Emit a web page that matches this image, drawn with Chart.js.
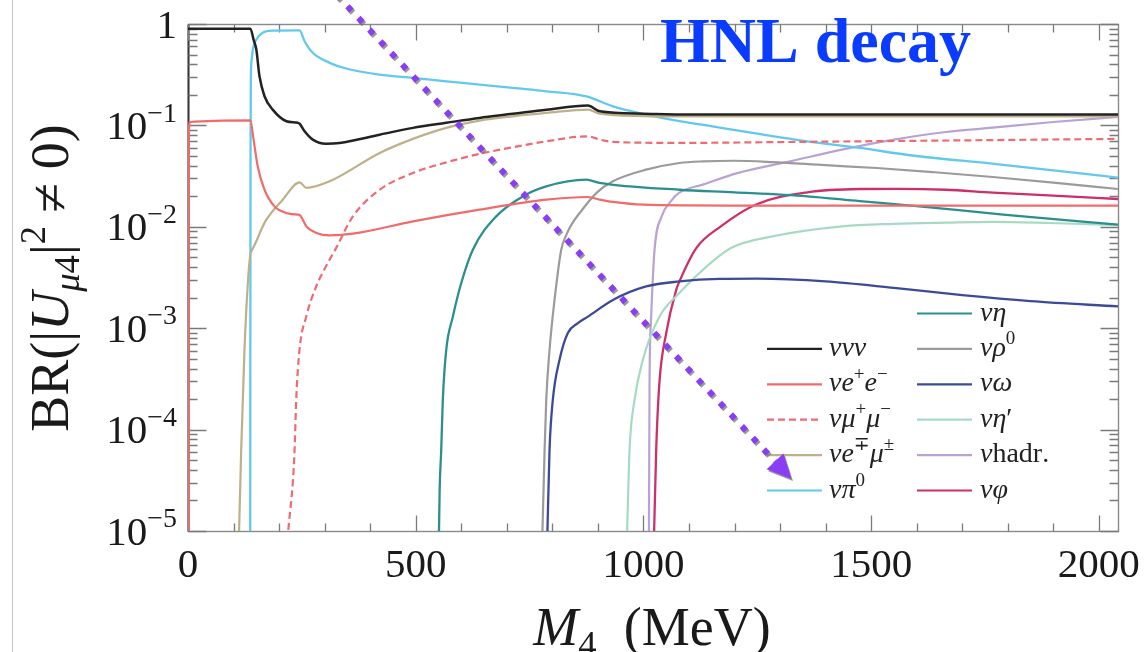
<!DOCTYPE html>
<html>
<head>
<meta charset="utf-8">
<title>HNL decay branching ratios</title>
<script src="https://cdn.jsdelivr.net/npm/chart.js@4.4.1/dist/chart.umd.min.js"></script>
<style>
  html, body { margin: 0; padding: 0; background: #ffffff; }
  #wrap { position: relative; width: 1144px; height: 652px; }
  canvas { display: block; }
</style>
</head>
<body>
<div id="wrap"><canvas id="chart" width="1144" height="652"></canvas></div>
<script>
// ---- axes ----
const massRange = [0, 2042];                 // M4 in MeV
const brRange = [1e-5, 1];                   // branching ratio
const xTicks = [0, 500, 1000, 1500, 2000];
const yTickLabels = ['10⁻⁵', '10⁻⁴', '10⁻³', '10⁻²', '10⁻¹', '1'];

// ---- decay channels: [M4 (MeV), BR] ----
const nuNuNu = [[0,0.90],[137,0.90],[144,0.70],[150,0.56],[157,0.305],[168,0.194],[186,0.143],[216,0.110],[241,0.106],[245,0.104],[256,0.0875],[274,0.0724],[303,0.066],[333,0.0672],[421,0.081],[494,0.0945],[567,0.106],[640,0.1186],[713,0.130],[787,0.143],[878,0.157],[904,0.138],[1000,0.1306],[1100,0.128],[2042,0.128]];
const nuEE = [[1.03,8e-6],[1.3,0.01],[2,0.08],[4,0.108],[137,0.112],[144,0.0724],[153,0.0395],[168,0.0232],[190,0.0159],[216,0.01368],[241,0.0132],[245,0.0131],[260,0.0101],[282,0.00869],[311,0.00822],[362,0.00855],[494,0.0113],[640,0.01475],[787,0.01853],[878,0.01968],[904,0.01853],[933,0.01758],[1000,0.01652],[1200,0.0162],[2042,0.0162]];
const nuMuMu = [[218,8e-6],[223,1.38e-5],[230,2.96e-5],[234,6.3e-5],[237.6,1.96e-4],[244.8,6.1e-4],[259.5,1.3e-3],[281.5,2.58e-3],[307,4.4e-3],[325.4,6.2e-3],[362,0.01267],[421,0.0232],[494,0.034],[567,0.0432],[640,0.0524],[713,0.0608],[787,0.0697],[878,0.078],[904,0.0724],[933,0.0687],[1079,0.0672],[1300,0.0685],[1600,0.0705],[2042,0.0736]];
const nuEMu = [[111.6,8e-6],[116.8,6.3e-5],[124,6.1e-4],[131.4,2.79e-3],[137,5.4e-3],[139,5.7e-3],[150,7.2e-3],[160,9.2e-3],[172,0.01175],[208,0.0185],[245,0.0274],[260,0.0242],[311,0.0281],[421,0.0535],[494,0.0736],[567,0.0945],[640,0.1115],[713,0.123],[787,0.1328],[878,0.1432],[904,0.1307],[1000,0.1236],[1100,0.1225],[2042,0.1225]];
const nuPi0 = [[136.6,8e-6],[136.9,1e-3],[137.3,0.05],[138,0.3],[140,0.45],[142.3,0.56],[150,0.70],[164,0.82],[186,0.86],[245,0.865],[256,0.676],[274,0.52],[311,0.414],[347,0.364],[421,0.317],[494,0.294],[567,0.272],[640,0.253],[713,0.234],[787,0.217],[875,0.193],[933,0.154],[1006,0.128],[1079,0.11],[1132,0.101],[1250,0.083],[1360,0.0697],[1475,0.060],[1590,0.0505],[1770,0.0418],[1900,0.036],[2042,0.0306]];
const nuEta = [[550.8,8e-6],[552.5,2.5e-5],[556,6.3e-5],[559.5,1.96e-4],[567,6.1e-4],[581.5,1.3e-3],[600,2.79e-3],[625.4,5.94e-3],[676.8,0.01267],[735,0.01995],[786.6,0.02506],[874.4,0.0292],[903.6,0.0271],[1079,0.0232],[1200,0.0219],[1360,0.0200],[1475,0.0179],[1588,0.0162],[1790,0.0132],[2042,0.0105]];
const nuRho0 = [[777.7,8e-6],[783,6.3e-5],[786.6,1.96e-4],[793.8,6.1e-4],[804.8,1.9e-3],[819.5,5.94e-3],[830,8.2e-3],[843,0.0107],[860,0.01368],[897,0.0216],[933,0.0281],[1006,0.0366],[1079,0.0426],[1132,0.0442],[1200,0.0448],[1283,0.0435],[1400,0.0405],[1512,0.038],[1640,0.0345],[1767,0.031],[1900,0.0273],[2042,0.0236]];
const nuOmega = [[788.7,8e-6],[793.8,6.3e-5],[801,1.96e-4],[815.8,4.88e-4],[834,8.95e-4],[856,1.12e-3],[878,1.3e-3],[933,1.9e-3],[1006,2.58e-3],[1079,2.89e-3],[1167,3.06e-3],[1250,3.08e-3],[1400,2.9e-3],[1550,2.5e-3],[1700,2.12e-3],[1850,1.85e-3],[2042,1.64e-3]];
const nuEtaPrime = [[963.6,8e-6],[969.5,6.3e-5],[980.5,1.96e-4],[998.7,4.88e-4],[1035,1.3e-3],[1079,2.22e-3],[1123,3.5e-3],[1192,6.17e-3],[1283,8.04e-3],[1436,0.0101],[1550,0.0107],[1664,0.011],[1767,0.0112],[1892,0.0109],[2042,0.0104]];
const nuHadr = [[1012,8e-6],[1012.7,5e-5],[1013.4,2.87e-4],[1017,1.3e-3],[1024.4,5.94e-3],[1040,0.01267],[1060,0.0178],[1078,0.0216],[1132,0.0262],[1208,0.034],[1322,0.0442],[1436,0.0577],[1550,0.0724],[1664,0.0861],[1767,0.095],[1900,0.108],[2042,0.121]];
const nuPhi = [[1023,8e-6],[1028,6.3e-5],[1035,2.87e-4],[1050,8.95e-4],[1072,2.39e-3],[1079,2.89e-3],[1116,6.17e-3],[1170,0.0101],[1246,0.0165],[1360,0.0219],[1475,0.0236],[1560,0.0237],[1664,0.0232],[1767,0.0217],[1900,0.0203],[2042,0.0188]];

const channelLabels = ['ννν', 'νe⁺e⁻', 'νμ⁺μ⁻', 'νe∓μ±', 'νπ⁰', 'νη', 'νρ⁰', 'νω', 'νη′', 'νhadr.', 'νφ'];
const channelData = [nuNuNu, nuEE, nuMuMu, nuEMu, nuPi0, nuEta, nuRho0, nuOmega, nuEtaPrime, nuHadr, nuPhi];

// guide arrow across the plot, in (M4, BR) units
const guideArrow = { from: [326, 1.95], to: [1325, 3.26e-5] };
const headline = 'HNL decay';

// ---- styles ----
const channelStyles = [
  { color: '#222222', width: 2.5 },
  { color: '#f26b6b', width: 2.2 },
  { color: '#ee6b73', width: 2.2, dash: [7, 4] },
  { color: '#bdb08a', width: 2.2 },
  { color: '#62c9ec', width: 2.3 },
  { color: '#2b8f8f', width: 2.3 },
  { color: '#9b9b9b', width: 2.2 },
  { color: '#3c4b98', width: 2.3 },
  { color: '#a8dac3', width: 2.2 },
  { color: '#b9a2d4', width: 2.2 },
  { color: '#cc2f69', width: 2.3 }
];

const SERIF = '"Liberation Serif", "DejaVu Serif", serif';
const SUP_MAP = { '⁺': '+', '⁻': '−', '⁰': '0', '¹': '1', '²': '2', '³': '3', '⁴': '4', '⁵': '5', '∓': '∓', '±': '±' };
const SUB_MAP = { '₀': '0', '₁': '1', '₂': '2', '₃': '3', '₄': '4' };

// split a label into math-style runs: single letters / greek italic, words upright
function toSegments(text) {
  const chars = Array.from(text);
  const segs = [];
  let i = 0;
  while (i < chars.length) {
    const c = chars[i];
    if (SUP_MAP[c]) { segs.push({ t: SUP_MAP[c], sup: true }); i++; continue; }
    if (SUB_MAP[c]) { segs.push({ t: SUB_MAP[c], sub: true }); i++; continue; }
    if (/[A-Za-z]/.test(c)) {
      let j = i;
      while (j < chars.length && /[A-Za-z]/.test(chars[j])) j++;
      const word = chars.slice(i, j).join('');
      segs.push({ t: word, it: word.length === 1 });
      i = j; continue;
    }
    if (/[\u0370-\u03FF]/.test(c)) { segs.push({ t: c, it: true }); i++; continue; }
    segs.push({ t: c }); i++;
  }
  return segs;
}

function segFont(seg, size) {
  const s = (seg.sup || seg.sub) ? size * 0.68 : size;
  return (seg.it ? 'italic ' : '') + s.toFixed(1) + 'px ' + SERIF;
}

function drawSegments(ctx, segs, x, y, size, align, color) {
  ctx.save();
  ctx.fillStyle = color;
  ctx.textBaseline = 'alphabetic';
  ctx.textAlign = 'left';
  const widths = segs.map(s => { ctx.font = segFont(s, size); return ctx.measureText(s.t).width; });
  const total = widths.reduce((a, b) => a + b, 0);
  let cx = align === 'right' ? x - total : align === 'center' ? x - total / 2 : x;
  segs.forEach((s, i) => {
    ctx.font = segFont(s, size);
    const dy = s.sup ? -0.42 * size : s.sub ? 0.2 * size : 0;
    ctx.fillText(s.t, cx, y + dy);
    cx += widths[i];
  });
  ctx.restore();
}

const yTitleSegs = [
  { t: 'BR(|' }, { t: 'U', it: true }, { t: 'μ', it: true, sub: true }, { t: '4', sub: true },
  { t: '|' }, { t: '2', sup: true }, { t: ' ≠ 0)' }
];
const xTitleSegs = [{ t: 'M', it: true }, { t: '4', sub: true }, { t: '  (MeV)' }];

// frame with inward ticks, decade labels and axis titles
const framePlugin = {
  id: 'framePlugin',
  beforeDatasetsDraw(chart) {
    const { ctx, chartArea: a, scales: { x, y } } = chart;
    const L = a.left + 0.5, R = a.right + 0.5, T = a.top + 0.5, B = a.bottom + 0.5;
    ctx.save();
    ctx.strokeStyle = '#8a8a8a';
    ctx.lineWidth = 1.4;
    ctx.strokeRect(L, T, R - L, B - T);
    ctx.strokeStyle = '#3a3a3a';
    ctx.lineWidth = 2;
    ctx.beginPath(); ctx.moveTo(L, T); ctx.lineTo(L, B); ctx.stroke();

    ctx.strokeStyle = '#7a7a7a';
    ctx.lineWidth = 1.3;
    ctx.beginPath();
    for (let m = 0; m <= x.max; m += 100) {
      const px = Math.round(x.getPixelForValue(m)) + 0.5;
      const len = m % 500 === 0 ? 16 : 8;
      ctx.moveTo(px, B); ctx.lineTo(px, B - len);
      ctx.moveTo(px, T); ctx.lineTo(px, T + len);
    }
    const e0 = Math.round(Math.log10(y.min)), e1 = Math.round(Math.log10(y.max));
    for (let e = e0; e <= e1; e++) {
      for (let k = 1; k <= 9; k++) {
        const v = k * Math.pow(10, e);
        if (v > y.max * 1.0001) break;
        const py = Math.round(y.getPixelForValue(v)) + 0.5;
        const len = k === 1 ? 18 : 9;
        ctx.moveTo(L, py); ctx.lineTo(L + len, py);
        ctx.moveTo(R, py); ctx.lineTo(R - len, py);
      }
    }
    ctx.stroke();
    ctx.restore();
  },
  afterDraw(chart) {
    const { ctx, chartArea: a, scales: { y } } = chart;
    // decade labels
    const e0 = Math.round(Math.log10(y.min));
    yTickLabels.forEach((lab, i) => {
      const py = y.getPixelForValue(Math.pow(10, e0 + i));
      drawSegments(ctx, toSegments(lab), a.left - 11, py + 13.5, 41, 'right', '#1a1a1a');
    });
    // axis titles
    ctx.save();
    ctx.translate(68, 278);
    ctx.rotate(-Math.PI / 2);
    drawSegments(ctx, yTitleSegs, 0, 0, 54, 'center', '#1a1a1a');
    ctx.restore();
    drawSegments(ctx, xTitleSegs, 652, 645, 54, 'center', '#1a1a1a');
    // page edge
    ctx.save();
    ctx.strokeStyle = '#c4c4c4';
    ctx.lineWidth = 1;
    ctx.beginPath(); ctx.moveTo(12.5, 0); ctx.lineTo(12.5, chart.height); ctx.stroke();
    ctx.restore();
  }
};

// two-column legend inside the plot
const legendPlugin = {
  id: 'legendPlugin',
  afterDatasetsDraw(chart, args, opts) {
    const { ctx } = chart;
    const place = (idx, col, row) => {
      const ds = chart.data.datasets[idx];
      const c = opts.columns[col];
      const yy = opts.rowY0 + row * opts.rowStep;
      ctx.save();
      ctx.strokeStyle = ds.borderColor;
      ctx.lineWidth = 2.2;
      ctx.setLineDash(ds.borderDash || []);
      ctx.beginPath(); ctx.moveTo(c.lineX, yy); ctx.lineTo(c.lineX + opts.lineLen, yy); ctx.stroke();
      ctx.restore();
      drawSegments(ctx, toSegments(ds.label), c.textX, yy + 7, opts.fontSize, 'left', '#222222');
    };
    opts.left.forEach((idx, r) => place(idx, 0, r + 1));
    opts.right.forEach((idx, r) => place(idx, 1, r));
  }
};

// dotted arrow and headline
const overlayPlugin = {
  id: 'overlayPlugin',
  afterDraw(chart) {
    const { ctx, scales: { x, y } } = chart;
    const p0 = { x: x.getPixelForValue(guideArrow.from[0]), y: y.getPixelForValue(guideArrow.from[1]) };
    const p1 = { x: x.getPixelForValue(guideArrow.to[0]), y: y.getPixelForValue(guideArrow.to[1]) };
    const dx = p1.x - p0.x, dy = p1.y - p0.y, len = Math.hypot(dx, dy);
    const ux = dx / len, uy = dy / len;
    const headLen = 24, headHalf = 11.5;
    const bx = p1.x - ux * headLen, by = p1.y - uy * headLen;
    const drawArrow = (ox, oy, color) => {
      ctx.save();
      ctx.strokeStyle = color;
      ctx.fillStyle = color;
      ctx.lineWidth = 6;
      ctx.lineCap = 'butt';
      ctx.setLineDash([6, 10]);
      ctx.beginPath(); ctx.moveTo(p0.x + ox, p0.y + oy); ctx.lineTo(bx + ox, by + oy); ctx.stroke();
      ctx.setLineDash([]);
      ctx.beginPath();
      ctx.moveTo(p1.x + ox, p1.y + oy);
      ctx.lineTo(bx - uy * headHalf + ox, by + ux * headHalf + oy);
      ctx.lineTo(bx + uy * headHalf + ox, by - ux * headHalf + oy);
      ctx.closePath(); ctx.fill();
      ctx.restore();
    };
    drawArrow(1.5, 2, 'rgba(110,110,110,0.7)');
    drawArrow(0, 0, '#8b3cf7');

    ctx.save();
    ctx.font = 'bold 64px ' + SERIF;
    ctx.fillStyle = '#0a3cff';
    ctx.textBaseline = 'alphabetic';
    ctx.textAlign = 'left';
    ctx.fillText(headline, 660, 62);
    ctx.restore();
  }
};

const datasets = channelData.map((arr, i) => ({
  label: channelLabels[i],
  data: arr.map(([m, br]) => ({ x: m, y: br })),
  borderColor: channelStyles[i].color,
  borderWidth: channelStyles[i].width,
  borderDash: channelStyles[i].dash || [],
  pointRadius: 0,
  fill: false,
  cubicInterpolationMode: 'monotone',
  clip: 0
}));

new Chart(document.getElementById('chart'), {
  type: 'line',
  data: { datasets },
  plugins: [framePlugin, legendPlugin, overlayPlugin],
  options: {
    responsive: false,
    animation: false,
    events: [],
    layout: { autoPadding: false, padding: { left: 0, top: 24, right: 26, bottom: 0 } },
    scales: {
      x: {
        type: 'linear',
        min: massRange[0],
        max: massRange[1],
        grid: { display: false },
        border: { display: false },
        ticks: {
          includeBounds: false,
          autoSkip: false,
          maxRotation: 0,
          padding: 3,
          color: '#1a1a1a',
          font: { family: SERIF, size: 41 },
          callback: v => String(v)
        },
        afterBuildTicks: s => { s.ticks = xTicks.map(v => ({ value: v })); },
        afterFit: s => { s.height = 121; s.paddingLeft = 0; s.paddingRight = 0; }
      },
      y: {
        type: 'logarithmic',
        min: brRange[0],
        max: brRange[1],
        grid: { display: false },
        border: { display: false },
        ticks: { display: false },
        afterFit: s => { s.width = 188; }
      }
    },
    plugins: {
      legend: { display: false },
      tooltip: { enabled: false },
      legendPlugin: {
        left: [0, 1, 2, 3, 4],
        right: [5, 6, 7, 8, 9, 10],
        columns: [{ lineX: 767, textX: 829 }, { lineX: 917, textX: 980 }],
        lineLen: 55,
        rowY0: 313.5,
        rowStep: 35.4,
        fontSize: 28
      }
    }
  }
});
</script>
</body>
</html>
